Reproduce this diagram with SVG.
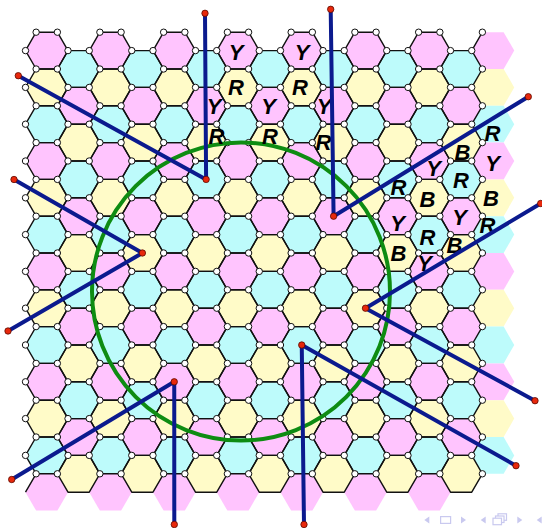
<svg xmlns="http://www.w3.org/2000/svg" width="542" height="528" viewBox="0 0 542 528">
<style>
.p{fill:#ffc4fe}.y{fill:#fffbc8}.c{fill:#bdfbfb}
.e{fill:none;stroke:#111;stroke-width:1.4;stroke-linejoin:round}
.v{fill:#fff;stroke:#111;stroke-width:1}
.cut{stroke:#0b1a8e;stroke-width:4;stroke-linecap:round;fill:none}
.dot{fill:#e8280c;stroke:#5a0a00;stroke-width:0.8}
.lt{font-family:"Liberation Sans",Arial,sans-serif;font-weight:bold;font-style:italic;font-size:22px;fill:#000;text-anchor:middle}
.nav{fill:#c9c9ef}
.navs{fill:#fff;stroke:#c9c9ef;stroke-width:1.2}
</style>
<defs>
<path id="h" d="M-21.25,0l10.625-18.4h21.25l10.625,18.4l-10.625,18.4h-21.25z"/>
<g id="fe">
<use href="#h" y="50.6" class="p"/><use href="#h" y="87.4" class="y"/><use href="#h" y="124.2" class="c"/>
<use href="#h" y="161" class="p"/><use href="#h" y="197.8" class="y"/><use href="#h" y="234.6" class="c"/>
<use href="#h" y="271.4" class="p"/><use href="#h" y="308.2" class="y"/><use href="#h" y="345" class="c"/>
<use href="#h" y="381.8" class="p"/><use href="#h" y="418.6" class="y"/><use href="#h" y="455.4" class="c"/>
</g>
<g id="fo">
<use href="#h" y="69" class="c"/><use href="#h" y="105.8" class="p"/><use href="#h" y="142.6" class="y"/>
<use href="#h" y="179.4" class="c"/><use href="#h" y="216.2" class="p"/><use href="#h" y="253" class="y"/>
<use href="#h" y="289.8" class="c"/><use href="#h" y="326.6" class="p"/><use href="#h" y="363.4" class="y"/>
<use href="#h" y="400.2" class="c"/><use href="#h" y="437" class="p"/><use href="#h" y="473.8" class="y"/>
</g>
<g id="se">
<use href="#h" y="50.6"/><use href="#h" y="87.4"/><use href="#h" y="124.2"/><use href="#h" y="161"/>
<use href="#h" y="197.8"/><use href="#h" y="234.6"/><use href="#h" y="271.4"/><use href="#h" y="308.2"/>
<use href="#h" y="345"/><use href="#h" y="381.8"/><use href="#h" y="418.6"/><use href="#h" y="455.4"/>
</g>
<g id="va">
<circle r="3.2" cy="50.6"/><circle r="3.2" cy="87.4"/><circle r="3.2" cy="124.2"/><circle r="3.2" cy="161"/>
<circle r="3.2" cy="197.8"/><circle r="3.2" cy="234.6"/><circle r="3.2" cy="271.4"/><circle r="3.2" cy="308.2"/>
<circle r="3.2" cy="345"/><circle r="3.2" cy="381.8"/><circle r="3.2" cy="418.6"/><circle r="3.2" cy="455.4"/>
</g>
<g id="vb">
<circle r="3.2" cy="32.2"/><circle r="3.2" cy="69"/><circle r="3.2" cy="105.8"/><circle r="3.2" cy="142.6"/>
<circle r="3.2" cy="179.4"/><circle r="3.2" cy="216.2"/><circle r="3.2" cy="253"/><circle r="3.2" cy="289.8"/>
<circle r="3.2" cy="326.6"/><circle r="3.2" cy="363.4"/><circle r="3.2" cy="400.2"/><circle r="3.2" cy="437"/>
<circle r="3.2" cy="473.8"/>
</g>
</defs>

<g id="lattice-fill">
<use href="#fe" x="46.75"/><use href="#fe" x="110.5"/><use href="#fe" x="174.25"/><use href="#fe" x="238"/>
<use href="#fe" x="301.75"/><use href="#fe" x="365.5"/><use href="#fe" x="429.25"/><use href="#fe" x="493"/>
<use href="#fo" x="78.625"/><use href="#fo" x="142.375"/><use href="#fo" x="206.125"/><use href="#fo" x="269.875"/>
<use href="#fo" x="333.625"/><use href="#fo" x="397.375"/><use href="#fo" x="461.125"/>
<use href="#h" x="46.75" y="492.2" class="p"/><use href="#h" x="110.5" y="492.2" class="p"/>
<use href="#h" x="174.25" y="492.2" class="p"/><use href="#h" x="238" y="492.2" class="p"/>
<use href="#h" x="301.75" y="492.2" class="p"/><use href="#h" x="365.5" y="492.2" class="p"/>
<use href="#h" x="429.25" y="492.2" class="p"/>
</g>

<g id="lattice-edges" class="e">
<use href="#se" x="46.75"/><use href="#se" x="110.5"/><use href="#se" x="174.25"/><use href="#se" x="238"/>
<use href="#se" x="301.75"/><use href="#se" x="365.5"/><use href="#se" x="429.25"/>
<use href="#se" x="78.625" y="18.4"/><use href="#se" x="142.375" y="18.4"/><use href="#se" x="206.125" y="18.4"/>
<use href="#se" x="269.875" y="18.4"/><use href="#se" x="333.625" y="18.4"/><use href="#se" x="397.375" y="18.4"/>
<use href="#se" x="461.125" y="18.4"/>
<path d="M36.125,473.8L25.5,492.2M471.75,50.6L482.375,32.2"/>
</g>

<g id="lattice-vertices" class="v">
<use href="#va" x="25.5"/><use href="#vb" x="36.125"/><use href="#vb" x="57.375"/><use href="#va" x="68"/>
<use href="#va" x="89.25"/><use href="#vb" x="99.875"/><use href="#vb" x="121.125"/><use href="#va" x="131.75"/>
<use href="#va" x="153"/><use href="#vb" x="163.625"/><use href="#vb" x="184.875"/><use href="#va" x="195.5"/>
<use href="#va" x="216.75"/><use href="#vb" x="227.375"/><use href="#vb" x="248.625"/><use href="#va" x="259.25"/>
<use href="#va" x="280.5"/><use href="#vb" x="291.125"/><use href="#vb" x="312.375"/><use href="#va" x="323"/>
<use href="#va" x="344.25"/><use href="#vb" x="354.875"/><use href="#vb" x="376.125"/><use href="#va" x="386.75"/>
<use href="#va" x="408"/><use href="#vb" x="418.625"/><use href="#vb" x="439.875"/><use href="#va" x="450.5"/>
<use href="#va" x="471.75"/><use href="#vb" x="482.375"/>
</g>

<g id="green-circle">
<circle cx="241" cy="291.5" r="149" fill="none" stroke="#0e8c12" stroke-width="4"/>
</g>

<g id="labels" class="lt">
<text x="236" y="59.5">Y</text><text x="302" y="59.5">Y</text>
<text x="236" y="95.1">R</text><text x="300" y="95.1">R</text>
<text x="214" y="113.8">Y</text><text x="268.5" y="113.8">Y</text><text x="324" y="113.8">Y</text>
<text x="216.5" y="143.8">R</text><text x="270" y="143.8">R</text><text x="323.5" y="149.5">R</text>
<text x="492.5" y="141.1">R</text><text x="462.5" y="159.5">B</text><text x="492.5" y="171.1">Y</text>
<text x="433.5" y="176.1">Y</text><text x="461" y="187.8">R</text><text x="398.5" y="195.1">R</text>
<text x="427.5" y="207.1">B</text><text x="491" y="206.1">B</text><text x="397.5" y="230.5">Y</text>
<text x="459.5" y="224.5">Y</text><text x="487.5" y="232.8">R</text><text x="427.5" y="244.5">R</text>
<text x="454.5" y="252.8">B</text><text x="398.5" y="261.1">B</text><text x="424.5" y="271.1">Y</text>
</g>

<g id="cuts" class="cut">
<path d="M206.1,179.4L205,13.3M206.1,179.4L18.3,75.7"/>
<path d="M333.6,216.2L330.7,9.3M333.6,216.2L528.3,96.7"/>
<path d="M142.4,253L14,179.5M142.4,253L8,331"/>
<path d="M365.5,308.2L540.7,203.5M365.5,308.2L535,400.7"/>
<path d="M301.75,345L304,524.5M301.75,345L516,465.7"/>
<path d="M174.25,381.8L174.3,524.5M174.25,381.8L11.7,479.5"/>
</g>

<g id="defects" class="dot">
<circle cx="206.1" cy="179.4" r="3.2"/><circle cx="333.6" cy="216.2" r="3.2"/>
<circle cx="142.4" cy="253" r="3.2"/><circle cx="365.5" cy="308.2" r="3.2"/>
<circle cx="301.75" cy="345" r="3.2"/><circle cx="174.25" cy="381.8" r="3.2"/>
<circle cx="205" cy="13.3" r="3.2"/><circle cx="18.3" cy="75.7" r="3.2"/>
<circle cx="330.7" cy="9.3" r="3.2"/><circle cx="528.3" cy="96.7" r="3.2"/>
<circle cx="14" cy="179.5" r="3.2"/><circle cx="8" cy="331" r="3.2"/>
<circle cx="540.7" cy="203.5" r="3.2"/><circle cx="535" cy="400.7" r="3.2"/>
<circle cx="304" cy="524.5" r="3.2"/><circle cx="516" cy="465.7" r="3.2"/>
<circle cx="174.3" cy="524.5" r="3.2"/><circle cx="11.7" cy="479.5" r="3.2"/>
</g>

<g id="nav">
<polygon class="nav" points="429.3,516.5 424.3,520 429.3,523.5"/>
<rect class="navs" x="440.6" y="516.6" width="10" height="6.8"/>
<polygon class="nav" points="461,516.5 466,520 461,523.5"/>
<polygon class="nav" points="485.7,516.5 480.7,520 485.7,523.5"/>
<rect class="navs" x="498" y="513.8" width="8.5" height="6.5"/>
<rect class="navs" x="495.5" y="516" width="8.5" height="6.5"/>
<rect class="navs" x="493" y="518.2" width="8.5" height="6.5"/>
<polygon class="nav" points="517.3,516.5 522.3,520 517.3,523.5"/>
<polygon class="nav" points="541.7,516.5 536.7,520 541.7,523.5"/>
</g>
</svg>
